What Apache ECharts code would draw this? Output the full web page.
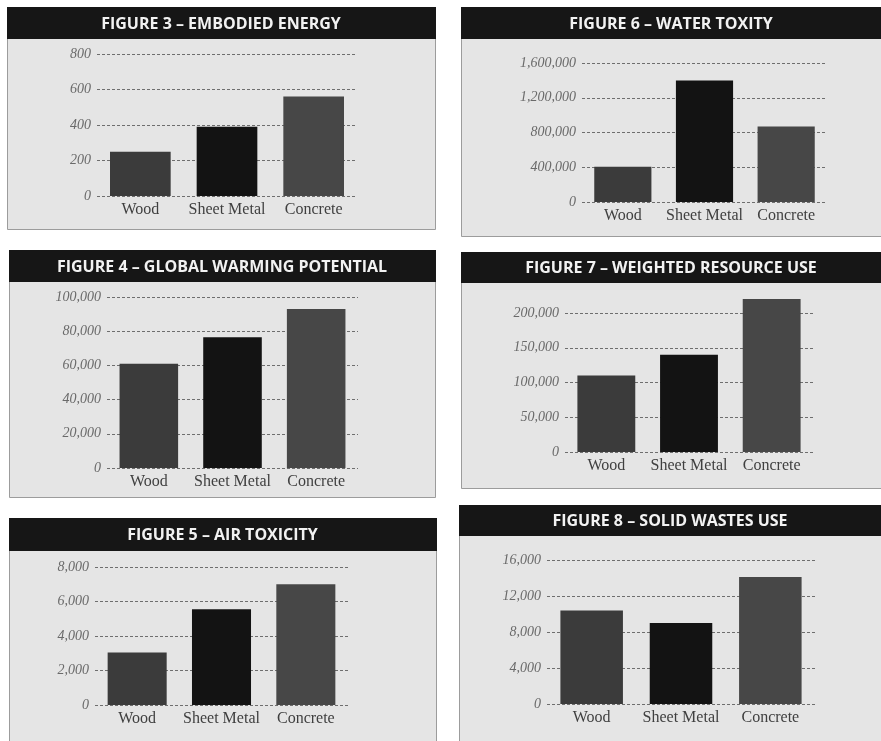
<!DOCTYPE html>
<html>
<head>
<meta charset="utf-8">
<title>Figures 3-8</title>
<script src="https://cdn.jsdelivr.net/npm/echarts@6/dist/echarts.min.js"></script>
<style>
    html, body { margin: 0; padding: 0; background: #fff; }
    #chart { width: 881px; height: 741px; }
</style>
</head>
<body>
<div id="chart"></div>
<script>
// data
var categories = ['Wood', 'Sheet Metal', 'Concrete']
var barColors = ['#3b3b3b', '#131313', '#474747']

var titles = [
    'FIGURE 3 – EMBODIED ENERGY',
    'FIGURE 6 – WATER TOXITY',
    'FIGURE 4 – GLOBAL WARMING POTENTIAL',
    'FIGURE 7 – WEIGHTED RESOURCE USE',
    'FIGURE 5 – AIR TOXICITY',
    'FIGURE 8 – SOLID WASTES USE'
]
var energyValues = [250, 390, 560]
var waterValues = [405000, 1400000, 870000]
var warmingValues = [61000, 76500, 93000]
var resourceValues = [110000, 140000, 220000]
var airValues = [3050, 5550, 7000]
var wasteValues = [10400, 9000, 14100]

// axis max / step for each figure
var axisMax = [800, 1600000, 100000, 200000, 8000, 16000]
var axisStep = [200, 400000, 20000, 50000, 2000, 4000]
var allValues = [energyValues, waterValues, warmingValues, resourceValues, airValues, wasteValues]

// panel boxes (x, y, w) + header height + body bottom, and plot area
var panels = [
    { x: 7,   y: 7,   w: 428, hh: 32, bottom: 229, grid: { left: 97,  top: 54,  width: 260, height: 142 } },
    { x: 461, y: 7,   w: 430, hh: 32, bottom: 236, grid: { left: 582, top: 63,  width: 245, height: 139 } },
    { x: 9,   y: 250, w: 426, hh: 32, bottom: 497, grid: { left: 107, top: 297, width: 251, height: 171 } },
    { x: 461, y: 252, w: 430, hh: 31, bottom: 488, grid: { left: 565, top: 313, width: 248, height: 139 } },
    { x: 9,   y: 518, w: 427, hh: 33, bottom: 745, grid: { left: 95,  top: 567, width: 253, height: 138 } },
    { x: 459, y: 505, w: 432, hh: 31, bottom: 745, grid: { left: 547, top: 560, width: 268, height: 144 } }
]

var chart = echarts.init(document.getElementById('chart'))

var grids = [], xAxes = [], yAxes = [], series = [], graphics = []

panels.forEach(function (p, i) {
    // panel body + header bar
    graphics.push({
        type: 'rect', silent: true, z: -10,
        shape: { x: p.x + 0.5, y: p.y + 0.5, width: p.w, height: p.bottom - p.y },
        style: { fill: '#e5e5e5', stroke: '#9c9c9c', lineWidth: 1 }
    })
    graphics.push({
        type: 'rect', silent: true, z: -9,
        shape: { x: p.x, y: p.y, width: p.w + 1, height: p.hh },
        style: { fill: '#161616' }
    })
    var cx = p.x + Math.min(p.w, 881 - p.x) / 2
    graphics.push({
        type: 'text', silent: true, z: -8,
        x: cx, y: p.y + p.hh / 2 + 1,
        style: {
            text: titles[i], fill: '#f2f2f2',
            font: 'bold 16px "Open Sans", sans-serif',
            align: 'center', verticalAlign: 'middle'
        }
    })

    grids.push(p.grid)
    xAxes.push({
        type: 'category', gridIndex: i, data: categories,
        axisLine: { show: false }, axisTick: { show: false },
        axisLabel: { interval: 0, color: '#3f3f3f', fontFamily: 'Liberation Serif', fontSize: 16, margin: 6 }
    })
    yAxes.push({
        type: 'value', gridIndex: i, min: 0, max: axisMax[i], interval: axisStep[i],
        axisLine: { show: false }, axisTick: { show: false },
        axisLabel: {
            color: '#6a6a6a', fontFamily: 'Liberation Serif', fontStyle: 'italic', fontSize: 14, margin: 6,
            formatter: function (v) { return v.toLocaleString('en-US') }
        },
        splitLine: { lineStyle: { color: '#6e6e6e', type: [3, 2], width: 1 } }
    })
    series.push({
        type: 'bar', xAxisIndex: i, yAxisIndex: i, barWidth: '70%', clip: false,
        data: allValues[i].map(function (v, k) {
            return { value: v, itemStyle: { color: barColors[k] } }
        })
    })
})

chart.setOption({
    animation: false,
    graphic: graphics,
    grid: grids,
    xAxis: xAxes,
    yAxis: yAxes,
    series: series
})
</script>
</body>
</html>
